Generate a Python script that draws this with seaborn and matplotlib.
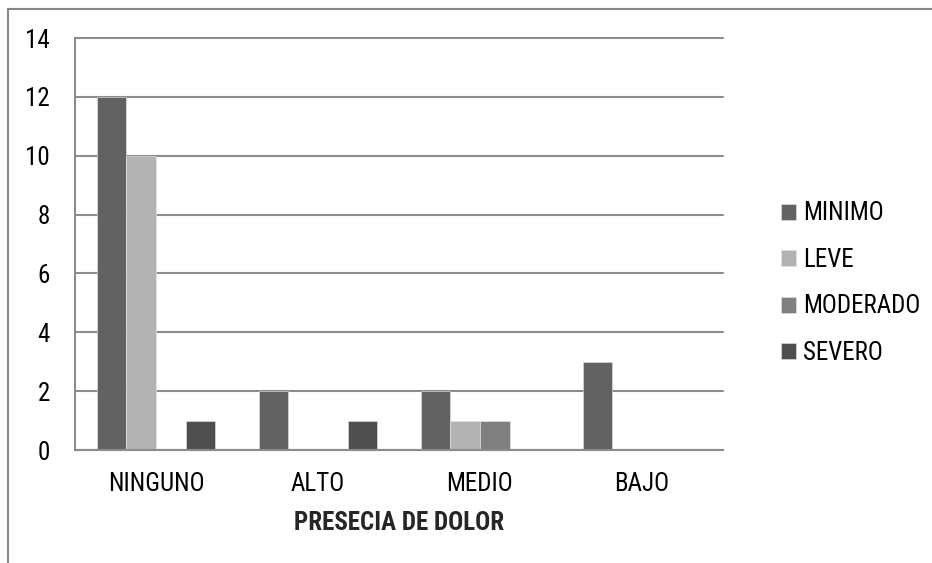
import pandas as pd
import seaborn as sns
import matplotlib.pyplot as plt
from matplotlib.patches import Rectangle

categorias = ["NINGUNO", "ALTO", "MEDIO", "BAJO"]
series = ["MINIMO", "LEVE", "MODERADO", "SEVERO"]
minimo = [12, 2, 2, 3]
leve = [10, 0, 1, 0]
moderado = [0, 0, 1, 0]
severo = [1, 1, 0, 0]
colores = ["#626262", "#b3b3b3", "#808080", "#4f4f4f"]

# tabla larga para seaborn
filas = []
for nombre, valores in zip(series, [minimo, leve, moderado, severo]):
    for cat, v in zip(categorias, valores):
        filas.append({"cat": cat, "serie": nombre, "valor": v})
df = pd.DataFrame(filas)

sns.set_style("white")
plt.rcParams["font.family"] = ["Liberation Sans Narrow", "Arial Narrow", "Roboto Condensed",
                               "Archivo Narrow", "PT Sans Narrow", "Liberation Sans",
                               "DejaVu Sans"]
plt.rcParams["text.color"] = "black"

fig = plt.figure(figsize=(9.32, 5.63), dpi=100)
ax = fig.add_axes([75 / 932, 1 - 450 / 563, 648 / 932, 412 / 563])

sns.barplot(data=df, x="cat", y="valor", hue="serie", order=categorias,
            hue_order=series, palette=colores, width=0.73, ax=ax,
            edgecolor="#e6e6e6", linewidth=0.4, saturation=1)

gris = "#8c8c8c"
fs = 18
ax.set_ylim(0, 14)
ax.set_yticks(range(0, 15, 2))
ax.set_xlim(-0.5, 3.5)
ax.yaxis.grid(True, color=gris, linewidth=1.5)
for linea in ax.get_ygridlines():
    linea.set_clip_on(False)
ax.set_axisbelow(True)
for lado in ["top", "right"]:
    ax.spines[lado].set_visible(False)
for lado in ["left", "bottom"]:
    ax.spines[lado].set_color(gris)
    ax.spines[lado].set_linewidth(1.5)
ax.tick_params(axis="y", length=5, width=1.5, color=gris, labelcolor="black",
               labelsize=fs, pad=13)
ax.tick_params(axis="x", length=0, labelsize=fs, labelcolor="black", pad=15.5)
ax.set_ylabel("")
ax.set_xlabel("PRESECIA DE DOLOR", fontsize=fs, fontweight="bold", labelpad=11)

ax.legend(loc="center left", bbox_to_anchor=(706 / 648, 0.405), frameon=False,
          fontsize=fs, handlelength=0.6, handleheight=0.6, handletextpad=0.3,
          labelspacing=0.9, borderpad=0, borderaxespad=0)

# borde del area del grafico
fig.add_artist(Rectangle((8 / 932, -0.1), 1.1, 1.1 - 9 / 563,
                         transform=fig.transFigure, fill=False,
                         edgecolor="#878787", linewidth=1.5))

fig.savefig("out.png", dpi=100)
